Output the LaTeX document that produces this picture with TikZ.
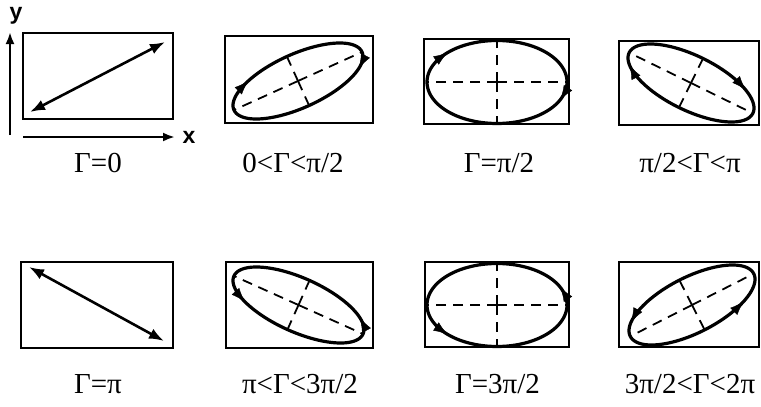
\documentclass[tikz,border=0pt]{standalone}
\usepackage{fontspec}
\setmainfont{Liberation Serif}
\newfontfamily\axfont{Liberation Sans}
\usetikzlibrary{arrows.meta}

\tikzset{
  boxst/.style={draw, line width=1.8pt, inner sep=0pt, outer sep=0pt},
  lab/.style={anchor=base, inner sep=0pt, font=\fontsize{29}{34}\selectfont},
  axlab/.style={inner sep=0pt, font=\axfont\bfseries\fontsize{23}{28}\selectfont},
  axarr/.style={line width=2.6pt, -{Latex[length=12pt,width=9pt]}},
  dblarr/.style={line width=2.6pt, {Latex[length=15pt,width=11pt]}-{Latex[length=15pt,width=11pt]}},
  ellst/.style={line width=3.2pt, line join=round},
  dashst/.style={line width=1.8pt, dash pattern=on 10pt off 7pt},
  ellarr/.style={line width=0.4pt, -{Latex[length=14pt,width=10pt]}}
}

% #1 cx, #2 cy, #3 A, #4 B, #5 Gamma (deg), #6 #7 arrow parameters
\newcommand\polell[7]{%
  \pgfmathsetmacro\elQa{(#3/10)*(#3/10)}%
  \pgfmathsetmacro\elQb{(#4/10)*(#4/10)}%
  \pgfmathsetmacro\elQc{(#3/10)*(#4/10)*cos(#5)}%
  \pgfmathsetmacro\elQm{(\elQa+\elQb)/2}%
  \pgfmathsetmacro\elQd{sqrt(((\elQa-\elQb)/2)*((\elQa-\elQb)/2)+\elQc*\elQc)}%
  \pgfmathsetmacro\elSa{10*sqrt(\elQm+\elQd)}%
  \pgfmathsetmacro\elSb{10*sqrt(max(\elQm-\elQd,0))}%
  \pgfmathsetmacro\elPsi{0.5*atan2(2*\elQc,\elQa-\elQb)}%
  \draw[dashst] (#1,#2) -- ({#1+\elSa*cos(\elPsi)},{#2-\elSa*sin(\elPsi)});
  \draw[dashst] (#1,#2) -- ({#1-\elSa*cos(\elPsi)},{#2+\elSa*sin(\elPsi)});
  \draw[dashst] (#1,#2) -- ({#1-\elSb*sin(\elPsi)},{#2-\elSb*cos(\elPsi)});
  \draw[dashst] (#1,#2) -- ({#1+\elSb*sin(\elPsi)},{#2+\elSb*cos(\elPsi)});
  \draw[ellst] plot[domain=0:360,samples=121,smooth] ({#1+#3*cos(\x)},{#2-#4*cos(\x+#5)}) -- cycle;
  \draw[ellarr] ({#1+#3*cos(#6-8)},{#2-#4*cos(#6-8+#5)}) -- ({#1+#3*cos(#6)},{#2-#4*cos(#6+#5)});
  \draw[ellarr] ({#1+#3*cos(#7-8)},{#2-#4*cos(#7-8+#5)}) -- ({#1+#3*cos(#7)},{#2-#4*cos(#7+#5)});
}

\begin{document}
\begin{tikzpicture}[x=1pt,y=-1pt]
\useasboundingbox (0,0) rectangle (761,407);
\fill[white] (0,0) rectangle (761,407);

% boxes
\node[boxst, minimum width=150pt, minimum height=86pt] (b1) at (98,76) {};
\node[boxst, minimum width=148pt, minimum height=87pt] (b2) at (299,79.5) {};
\node[boxst, minimum width=145pt, minimum height=85pt] (b3) at (496.5,81.5) {};
\node[boxst, minimum width=140pt, minimum height=84pt] (b4) at (689,83) {};
\node[boxst, minimum width=152pt, minimum height=86pt] (b5) at (97,305) {};
\node[boxst, minimum width=147pt, minimum height=86pt] (b6) at (299.5,305) {};
\node[boxst, minimum width=144pt, minimum height=85pt] (b7) at (497,304.5) {};
\node[boxst, minimum width=140pt, minimum height=85pt] (b8) at (689,304.5) {};

% axes
\coordinate (yo) at (10,135);
\coordinate (yt) at (10,32);
\coordinate (xo) at (23,137);
\coordinate (xt) at (175,137);
\draw[axarr] (yo) -- (yt);
\draw[axarr] (xo) -- (xt);
\node[axlab, anchor=north] (ylab) at (16,7) {y};
\node[axlab] (xlab) at (189,137) {x};

% linear cases
\coordinate (p1a) at (30,112);
\coordinate (p1b) at (165,42);
\draw[dblarr] (p1a) -- (p1b);
\coordinate (p5a) at (29,267);
\coordinate (p5b) at (164,341);
\draw[dblarr] (p5a) -- (p5b);

% elliptical cases
\polell{298}{81}{65}{38}{50}{20}{220}
\polell{497}{82}{70}{41.5}{90}{25}{225}
\polell{691}{83}{63}{39}{130}{167}{330}
\polell{298.5}{305}{65.5}{38}{230}{20}{215}
\polell{497}{305}{70}{41.5}{270}{25}{225}
\polell{692}{305}{63}{40}{310}{165}{325}

% labels
\node[lab] (l1) at (98,172) {Γ=0};
\node[lab] (l2) at (293,172) {0<Γ<π/2};
\node[lab] (l3) at (499,172) {Γ=π/2};
\node[lab] (l4) at (690,172) {π/2<Γ<π};
\node[lab] (l5) at (98,393) {Γ=π};
\node[lab] (l6) at (300,393) {π<Γ<3π/2};
\node[lab] (l7) at (497.5,393) {Γ=3π/2};
\node[lab] (l8) at (690,393) {3π/2<Γ<2π};
\end{tikzpicture}
\end{document}
